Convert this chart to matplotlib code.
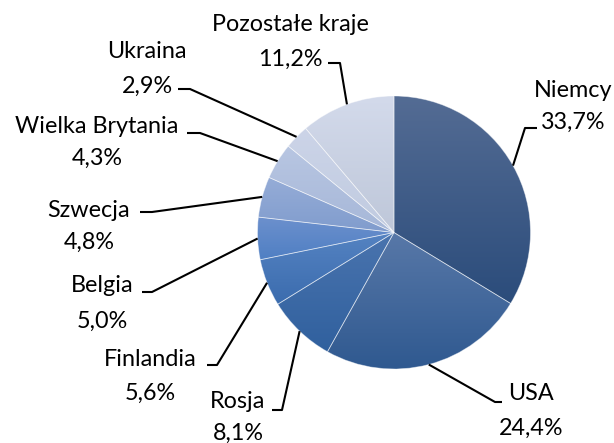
import numpy as np
import matplotlib
matplotlib.use("Agg")
import matplotlib.pyplot as plt
from matplotlib.colors import LinearSegmentedColormap

countries = ["Niemcy", "USA", "Rosja", "Finlandia", "Belgia", "Szwecja",
             "Wielka Brytania", "Ukraina", "Pozostałe kraje"]
shares = [33.7, 24.4, 8.1, 5.6, 5.0, 4.8, 4.3, 2.9, 11.2]
pct_labels = ["33,7%", "24,4%", "8,1%", "5,6%", "5,0%", "4,8%", "4,3%", "2,9%", "11,2%"]

# gradient colours per slice (top, bottom)
top_cols = ["#546c94", "#5878a8", "#4a74ae", "#5583c2", "#6c90cd",
            "#95acd7", "#b8c6e2", "#ccd4e8", "#d3daeb"]
bot_cols = ["#2b4c7b", "#2e588f", "#30609e", "#3b6cae", "#4f7fc3",
            "#809ccd", "#a6b7d8", "#c0cbe0", "#bec7d9"]

W, H = 614, 443
fig = plt.figure(figsize=(W / 100, H / 100), dpi=100)
ax = fig.add_axes([0, 0, 1, 1])

def py(y):
    return H - y

cx, cy, R = 394, 232.5, 136.5
wedges, _ = ax.pie(shares, startangle=90, counterclock=False,
                   center=(cx, py(cy)), radius=R,
                   colors=bot_cols,
                   wedgeprops=dict(edgecolor=(1, 1, 1, 0.45), linewidth=0.6))
ax.set_xlim(0, W)
ax.set_ylim(0, H)
ax.set_aspect("equal")
ax.axis("off")

# vertical gradient fill for each wedge
for w, t, b in zip(wedges, top_cols, bot_cols):
    verts = w.get_path().vertices
    x0, x1 = verts[:, 0].min(), verts[:, 0].max()
    y0, y1 = verts[:, 1].min(), verts[:, 1].max()
    cmap = LinearSegmentedColormap.from_list("g", [b, t])
    grad = np.linspace(0, 1, 256).reshape(-1, 1)
    im = ax.imshow(grad, cmap=cmap, extent=[x0, x1, y0, y1], origin="lower",
                   aspect="auto", zorder=w.get_zorder() + 0.1, interpolation="bilinear")
    im.set_clip_path(w)
    w.set_facecolor("none")
    w.set_zorder(w.get_zorder() + 0.2)

ax.set_xlim(0, W)
ax.set_ylim(0, H)

# label layout: (x center, y line1, y line2), leader horizontal (x start, x end, y)
label_pos = [(573, 90, 122), (531, 394, 428), (238, 401, 433), (150, 359, 393),
             (102, 286, 321), (89, 210, 242), (97, 126, 158), (147, 51, 86),
             (290, 24, 59)]
leader_h = [(537, 525, 128), (502, 495, 402), (272, 282, 410), (207, 217, 365),
            (142, 152, 292), (140, 152, 212), (187, 200, 133), (178, 190, 89),
            (328, 340, 63)]

font = dict(family="Lato", size=16.8, color="black")
for w, name, pct, (lx, y1, y2), (hx0, hx1, hy) in zip(wedges, countries, pct_labels,
                                                      label_pos, leader_h):
    ax.text(lx, py(y1), name, ha="center", va="center", **font)
    ax.text(lx, py(y2), pct, ha="center", va="center", **font)
    ang = np.deg2rad((w.theta1 + w.theta2) / 2)
    ex = cx + R * np.cos(ang)
    ey = py(cy) + R * np.sin(ang)
    ax.plot([hx0, hx1, ex], [py(hy), py(hy), ey], color="black", lw=1.5,
            solid_capstyle="butt", zorder=5)

fig.savefig("out.png", dpi=100)
